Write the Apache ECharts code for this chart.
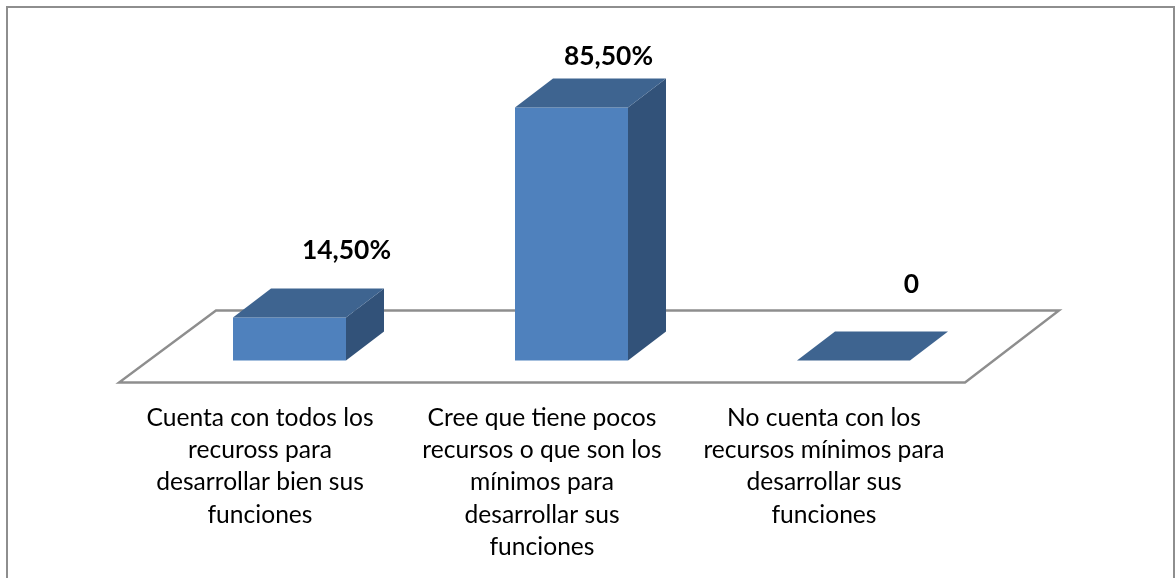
<!DOCTYPE html>
<html>
<head>
<meta charset="utf-8">
<style>
  html, body { margin: 0; padding: 0; background: #fff; }
  #chart { width: 1175px; height: 578px; }
</style>
<script src="https://cdn.jsdelivr.net/npm/echarts@6/dist/echarts.min.js"></script>
</head>
<body>
<div id="chart"></div>
<script>
const categories = [
  'Cuenta con todos los\nrecuross para\ndesarrollar bien sus\nfunciones',
  'Cree que tiene pocos\nrecursos o que son los\nmínimos para\ndesarrollar sus\nfunciones',
  'No cuenta con los\nrecursos mínimos para\ndesarrollar sus\nfunciones'
];
const values = [14.5, 85.5, 0];
const valueLabels = ['14,50%', '85,50%', '0'];

// label positions are hand placed in the original, relative to the bar's front top edge
const labelOffsets = [[57, -67], [37, -51], [58, -76]];

const FONT = 'Lato, sans-serif';
const BAR_W = 113;
const GAP = [29.5, -22];   // bar front edge sits inside the floor
const DEPTH = [38, -29];   // bar depth

const myChart = echarts.init(document.getElementById('chart'));

function renderFloor(params) {
  const c = params.coordSys;
  const bottom = c.y + c.height;
  return {
    type: 'polygon',
    shape: {
      points: [
        [c.x, bottom],
        [c.x + c.width, bottom],
        [c.x + c.width + 94, bottom - 72],
        [c.x + 97, bottom - 72]
      ]
    },
    style: { fill: '#fff', stroke: '#8e8e8e', lineWidth: 2.4 }
  };
}

function renderBar(params, api) {
  const i = api.value(0);
  const top = api.coord([i, api.value(1)]);
  const base = api.coord([i, 0]);
  const l = top[0] + GAP[0] - BAR_W / 2;
  const r = l + BAR_W;
  const t = top[1] + GAP[1];
  const b = base[1] + GAP[1];
  const dx = DEPTH[0];
  const dy = DEPTH[1];
  const children = [];
  if (b - t > 0) {
    children.push({
      type: 'polygon',
      shape: { points: [[r, t], [r + dx, t + dy], [r + dx, b + dy], [r, b]] },
      style: { fill: '#325279' }
    });
    children.push({
      type: 'rect',
      shape: { x: l, y: t, width: BAR_W, height: b - t },
      style: { fill: '#4f81bd' }
    });
  }
  children.push({
    type: 'polygon',
    shape: { points: [[l, t], [r, t], [r + dx, t + dy], [l + dx, t + dy]] },
    style: { fill: '#3e6490' }
  });
  children.push({
    type: 'text',
    style: {
      text: valueLabels[i],
      x: l + BAR_W / 2 + labelOffsets[i][0],
      y: t + labelOffsets[i][1],
      align: 'center',
      verticalAlign: 'middle',
      font: 'bold 26.4px ' + FONT,
      fill: '#000'
    }
  });
  return { type: 'group', children: children };
}

const option = {
  backgroundColor: '#fff',
  animation: false,
  graphic: [
    {
      type: 'rect',
      silent: true,
      shape: { x: 7, y: 7, width: 1167, height: 620 },
      style: { fill: 'none', stroke: '#8e8e8e', lineWidth: 2 }
    }
  ],
  grid: { left: 119, width: 846, top: 86.5, height: 296 },
  xAxis: {
    type: 'category',
    data: categories,
    axisLine: { show: false },
    axisTick: { show: false },
    axisLabel: {
      interval: 0,
      margin: 19,
      fontFamily: FONT,
      fontSize: 24.6,
      lineHeight: 32.4,
      color: '#000'
    }
  },
  yAxis: {
    type: 'value',
    min: 0,
    max: 100,
    show: false
  },
  series: [
    {
      type: 'custom',
      z: 1,
      silent: true,
      data: [0],
      renderItem: renderFloor
    },
    {
      type: 'custom',
      z: 2,
      encode: { x: 0, y: 1 },
      data: values.map(function (v, i) { return [i, v]; }),
      renderItem: renderBar
    }
  ]
};

myChart.setOption(option);
</script>
</body>
</html>
